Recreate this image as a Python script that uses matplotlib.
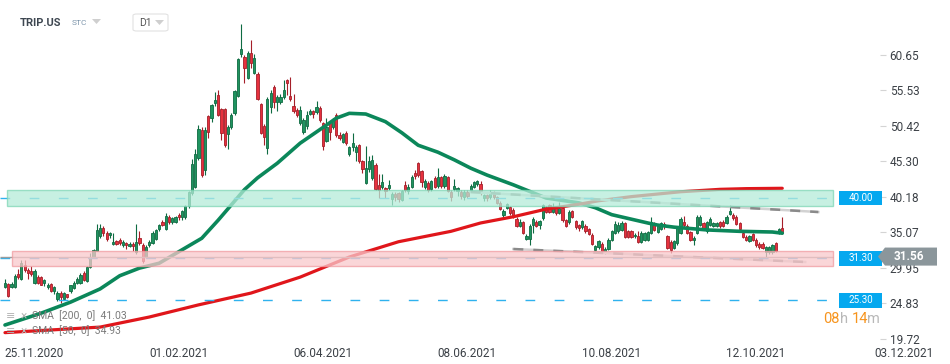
import matplotlib
matplotlib.use("Agg")
import matplotlib.pyplot as plt
from matplotlib.patches import Rectangle, Polygon, FancyBboxPatch
from matplotlib.transforms import blended_transform_factory

plt.rcParams['font.family'] = ['Roboto', 'DejaVu Sans']

# daily candles (one per trading day)
opens = [
    27.2, 27.6, 27.2, 27.2, 29.0, 28.3, 30.3, 29.6, 29.5, 27.7,
    28.6, 28.6, 27.8, 27.2, 27.6, 26.6, 25.4, 26.3, 25.4, 26.1,
    26.6, 27.1, 27.8, 27.8, 29.2, 28.0, 30.0, 31.5, 32.4, 34.5,
    35.7, 35.0, 34.6, 33.4, 33.8, 34.0, 33.2, 33.5, 33.1, 33.4,
    32.2, 34.2, 33.2, 31.5, 33.2, 33.5, 34.1, 35.5, 36.5, 35.5,
    37.3, 36.5, 36.6, 37.5, 37.2, 37.2, 38.8, 40.7, 41.6, 45.8,
    49.8, 44.0, 51.8, 51.5, 53.7, 54.8, 52.8, 52.8, 49.2, 50.2,
    52.2, 54.7, 60.7, 60.3, 57.3, 60.9, 58.0, 57.9, 53.5, 50.4,
    47.2, 53.1, 56.0, 53.8, 53.8, 54.6, 57.0, 54.7, 53.3, 52.7,
    50.8, 49.5, 50.4, 52.1, 52.5, 52.4, 53.0, 50.8, 48.2, 50.8,
    50.2, 52.0, 49.1, 48.1, 49.4, 46.3, 47.3, 46.6, 47.6, 45.3,
    42.2, 44.2, 42.9, 44.8, 41.9, 41.6, 41.4, 41.4, 39.9, 40.6,
    40.7, 39.7, 41.9, 41.0, 41.6, 43.6, 45.0, 43.9, 41.6, 42.2,
    41.3, 42.9, 41.7, 43.0, 41.7, 43.0, 40.9, 41.3, 41.0, 40.9,
    40.1, 40.9, 41.2, 41.6, 42.0, 42.0, 40.0, 40.4, 40.1,
    40.7, 40.1, 39.3, 37.5, 38.6, 38.7, 38.3, 37.0, 36.0, 36.5, 34.1,
    34.1, 36.1, 36.6, 36.1, 37.1, 38.7, 39.0, 38.0, 38.5, 37.9,
    38.6, 36.8, 36.5, 38.1, 36.7, 36.1, 35.8, 36.0, 35.5, 34.7,
    32.5, 32.9, 33.4, 32.2, 32.7, 34.0, 35.0, 35.2, 35.4, 36.4,
    35.2, 35.2, 34.5, 34.5, 33.7, 34.0, 34.0,
    35.0, 36.4, 35.1, 35.6, 36.3, 34.5, 33.7, 32.8, 33.5, 35.0,
    36.5, 36.0, 35.1, 34.0, 35.0, 36.1, 36.4, 35.2, 36.1, 36.0,
    36.0, 36.5, 36.6, 36.4, 37.7, 37.6, 37.3, 36.4, 35.0, 34.4,
    33.8, 34.8, 34.0, 33.4, 33.4, 32.2, 32.2, 32.2, 33.5, 35.0, 35.7,
]
closes = [
    27.8, 25.9, 27.6, 28.8, 28.6, 30.6, 29.6, 29.2, 29.0, 29.5,
    27.8, 27.5, 28.2, 27.5, 26.6, 27.2, 26.3, 25.8, 26.3, 25.7,
    27.4, 27.8, 28.3, 28.9, 28.2, 30.0, 31.5, 32.5, 35.4, 35.7,
    34.9, 34.1, 34.9, 33.6, 33.4, 33.5, 33.7, 33.2, 33.4, 33.1,
    33.6, 33.5, 30.9, 33.0, 33.7, 35.0, 35.4, 36.1, 36.1, 37.4,
    36.5, 37.1, 37.2, 37.2, 38.1, 38.8, 40.8, 44.9, 46.3, 49.9,
    43.3, 49.8, 49.5, 53.4, 54.1, 52.0, 49.4, 47.6, 50.2, 52.0,
    55.4, 60.0, 61.5, 58.7, 60.9, 59.5, 60.2, 54.3, 49.4, 48.8,
    54.3, 55.1, 53.8, 54.6, 54.6, 55.6, 56.6, 54.3, 52.5, 52.0,
    52.7, 51.2, 52.0, 52.5, 52.1, 53.1, 51.2, 47.5, 50.2, 49.5,
    51.2, 49.1, 48.6, 49.2, 47.9, 47.3, 47.9, 47.3, 45.3, 44.2,
    44.3, 45.3, 45.5, 41.3, 41.2, 42.3, 41.0, 41.9, 40.6, 40.2,
    39.9, 41.0, 41.2, 41.6, 43.0, 43.2, 43.3, 42.3, 42.4, 41.2,
    42.4, 41.6, 43.0, 41.7, 43.2, 41.0, 40.1, 41.7, 41.4, 40.3,
    40.9, 40.3, 41.7, 42.3, 42.4, 41.0, 40.4, 40.0, 40.9,
    40.1, 39.3, 38.4, 38.1, 39.1, 37.8, 37.3, 36.0, 36.6, 35.0, 34.5,
    36.0, 37.0, 36.0, 36.7, 39.0, 38.0, 38.0, 38.7, 37.9, 38.6,
    36.8, 36.0, 38.0, 37.3, 35.8, 35.7, 36.7, 35.2, 34.8, 33.4,
    33.1, 33.8, 32.4, 32.7, 34.0, 35.2, 36.3, 36.1, 36.4, 34.4,
    34.4, 34.4, 34.7, 33.7, 35.0, 34.9, 35.1,
    36.5, 35.4, 36.0, 36.4, 35.9, 32.8, 32.5, 33.8, 35.8, 37.0,
    36.1, 35.0, 34.0, 34.3, 37.3, 37.3, 35.6, 36.5, 37.0, 36.4,
    36.4, 35.9, 36.0, 37.3, 38.1, 37.1, 36.3, 35.5, 34.4, 34.0,
    34.5, 34.0, 33.2, 32.9, 32.8, 32.9, 32.9, 33.2, 32.4, 35.5, 35.0,
]
highs = [
    28.4, 27.8, 27.9, 29.0, 29.8, 31.0, 31.0, 29.9, 30.2, 29.8,
    28.9, 28.8, 28.4, 27.7, 27.7, 27.3, 26.6, 26.6, 26.5, 26.2,
    27.5, 28.0, 28.6, 29.2, 29.5, 30.2, 32.1, 32.7, 36.3, 36.3,
    35.9, 35.2, 35.1, 34.9, 34.0, 34.2, 33.9, 33.7, 33.6, 33.6,
    36.3, 35.3, 33.5, 33.3, 33.9, 35.3, 35.6, 36.3, 36.9, 37.8,
    37.5, 37.3, 37.4, 37.8, 38.3, 39.0, 41.0, 45.6, 47.0, 50.5,
    50.3, 50.2, 52.0, 53.5, 55.3, 55.5, 53.0, 53.0, 50.5, 52.2,
    55.6, 60.2, 65.1, 60.6, 61.2, 62.8, 60.8, 58.2, 53.7, 50.6,
    54.5, 55.5, 56.3, 54.8, 55.0, 57.0, 57.2, 57.5, 55.0, 53.0,
    53.2, 51.5, 52.5, 52.8, 52.7, 54.0, 53.3, 51.0, 51.5, 51.0,
    51.5, 52.3, 49.5, 49.3, 49.6, 47.5, 49.3, 47.6, 47.8, 45.5,
    47.5, 46.0, 46.2, 45.0, 43.4, 43.5, 41.6, 42.6, 40.9, 40.8,
    40.9, 41.2, 42.5, 42.0, 43.3, 44.0, 45.2, 44.1, 42.8, 42.4,
    42.6, 43.1, 44.3, 43.2, 43.4, 43.2, 41.1, 42.8, 41.6, 41.1,
    41.1, 41.1, 42.0, 42.5, 42.6, 42.4, 40.6, 40.6, 41.2,
    41.0, 40.3, 39.5, 38.4, 39.3, 38.9, 38.5, 37.2, 37.0, 36.7, 34.8,
    36.2, 37.2, 36.8, 36.9, 39.2, 38.9, 39.2, 39.3, 38.8, 39.4,
    38.8, 37.0, 38.2, 38.3, 36.9, 36.3, 36.9, 36.2, 35.7, 34.9,
    33.3, 34.0, 33.6, 32.9, 34.2, 35.4, 36.7, 36.5, 36.7, 36.6,
    35.4, 35.4, 34.9, 35.2, 35.2, 35.1, 35.3,
    37.2, 36.6, 36.2, 36.6, 36.5, 34.7, 33.9, 34.0, 36.0, 37.3,
    37.4, 36.2, 35.3, 34.5, 37.5, 37.5, 36.6, 36.7, 37.2, 36.6,
    36.6, 36.7, 36.8, 37.5, 39.0, 37.8, 37.5, 36.6, 35.2, 34.6,
    34.7, 35.0, 34.2, 33.6, 33.6, 33.1, 33.1, 33.4, 33.7, 35.7, 37.3,
]
lows = [
    27.0, 25.8, 27.0, 27.0, 28.4, 28.2, 29.4, 28.3, 28.8, 27.6,
    27.6, 27.4, 27.3, 26.9, 26.5, 26.2, 25.2, 24.9, 25.3, 25.6,
    26.3, 26.9, 27.6, 27.6, 28.0, 27.9, 29.9, 31.3, 32.3, 34.2,
    34.5, 33.8, 34.3, 33.2, 33.2, 33.3, 33.0, 32.6, 32.9, 32.3,
    32.0, 33.3, 30.7, 31.3, 33.0, 33.4, 34.0, 35.3, 35.9, 35.4,
    36.3, 36.2, 36.4, 36.9, 36.9, 37.0, 38.6, 40.5, 41.4, 45.5,
    43.0, 43.3, 48.6, 51.0, 53.2, 51.8, 48.3, 47.3, 47.0, 49.9,
    52.0, 54.5, 60.3, 56.6, 57.1, 58.8, 57.8, 54.1, 49.2, 47.6,
    46.3, 52.3, 53.0, 52.5, 53.5, 54.3, 54.8, 54.0, 52.3, 51.6,
    50.5, 49.2, 50.0, 51.9, 51.5, 52.1, 51.0, 46.9, 48.0, 48.4,
    49.9, 48.8, 48.3, 47.9, 47.6, 46.0, 46.8, 45.4, 45.0, 43.6,
    42.0, 43.7, 42.6, 41.1, 40.0, 41.3, 40.0, 41.2, 39.0, 39.6,
    39.4, 39.5, 40.8, 40.6, 41.4, 42.8, 43.0, 41.6, 41.3, 40.9,
    41.0, 41.4, 41.5, 41.4, 41.5, 40.8, 39.6, 41.0, 40.3, 39.8,
    39.7, 40.0, 40.9, 41.4, 41.8, 40.5, 39.5, 39.6, 39.8,
    39.9, 39.1, 38.2, 37.0, 38.4, 37.6, 37.1, 35.8, 35.8, 34.8, 33.9,
    33.2, 35.0, 35.8, 35.5, 36.8, 37.8, 37.8, 37.8, 37.6, 37.7,
    36.6, 35.8, 36.3, 37.1, 35.6, 35.2, 35.6, 35.0, 34.6, 33.2,
    32.2, 32.7, 32.2, 32.0, 32.5, 33.8, 34.8, 35.0, 35.2, 34.2,
    34.2, 34.2, 34.3, 33.5, 33.5, 33.8, 33.8,
    34.8, 35.2, 34.9, 35.4, 35.6, 32.6, 32.1, 32.6, 33.3, 34.8,
    35.8, 34.8, 33.8, 33.3, 34.8, 35.9, 35.4, 35.0, 35.9, 35.8,
    35.8, 35.7, 35.8, 36.2, 37.5, 36.9, 36.1, 35.3, 34.2, 33.8,
    33.6, 33.8, 33.0, 32.7, 32.6, 31.0, 32.0, 32.0, 32.2, 34.8, 34.8,
]

# moving averages (bar index, value)
sma50_bar = [0, 11, 20, 29, 35, 41, 47, 60, 65, 73, 77, 83, 90, 98, 101, 105,
             110, 116, 121, 126, 132, 137, 142, 147, 155, 165, 175, 180, 185,
             196, 199, 204, 214, 224, 234, 237]
sma50_val = [21.7, 23.4, 25.0, 26.9, 28.8, 29.9, 30.6, 34.2, 36.8, 41.2, 42.9,
             45.0, 47.9, 50.5, 51.5, 52.2, 52.1, 51.0, 49.4, 47.6, 46.6, 45.5,
             44.3, 43.3, 41.9, 40.0, 39.3, 38.6, 37.6, 36.4, 36.1, 35.8, 35.4,
             35.2, 35.1, 34.93]
sma200_bar = [0, 29, 44, 59, 75, 90, 105, 120, 136, 145, 155, 165, 175, 181,
              191, 206, 218, 226, 237]
sma200_val = [20.6, 21.4, 22.85, 24.6, 26.3, 28.6, 31.5, 33.7, 35.2, 36.4,
              37.3, 38.4, 39.1, 39.6, 40.2, 40.9, 41.25, 41.35, 41.4]
legend_labels = ['SMA  [200,  0]  41.03', 'SMA  [50,  0]  34.93']

# horizontal levels, zones, trend lines
levels = [40.00, 31.30, 25.30]
green_zone = (38.85, 41.15)
red_zone = (30.2, 32.3)
last_price = 31.56
upper_trend_bar = [142, 248]
upper_trend_val = [40.86, 37.98]
lower_trend_bar = [155, 244]
lower_trend_val = [32.65, 30.78]

yticks = [60.65, 55.53, 50.42, 45.30, 40.18, 35.07, 29.95, 24.83, 19.72]
xtick_bars = [9, 53, 97, 141, 185, 229, 274]
xtick_labels = ['25.11.2020', '01.02.2021', '06.04.2021', '08.06.2021',
                '10.08.2021', '12.10.2021', '03.12.2021']

GREEN, GREEN_EDGE = '#1f9460', '#0e6b42'
RED, RED_EDGE = '#e6313e', '#a51f29'
TXT = '#3b4046'

W, H = 950, 364
fig = plt.figure(figsize=(W / 100, H / 100), dpi=100)
ax = fig.add_axes([0, 24 / H, 880 / W, 340 / H])
ax.set_xlim(-1.52, 266.8)
ax.set_ylim(19.54, 68.53)
for s in ax.spines.values():
    s.set_visible(False)

# candles
x = list(range(len(opens)))
body_bottom = [min(o, c) for o, c in zip(opens, closes)]
body_height = [max(abs(c - o), 0.15) for o, c in zip(opens, closes)]
face = [GREEN if c >= o else RED for o, c in zip(opens, closes)]
edge = [GREEN_EDGE if c >= o else RED_EDGE for o, c in zip(opens, closes)]
ax.vlines(x, lows, highs, colors=edge, lw=0.8, zorder=2)
ax.bar(x, body_height, bottom=body_bottom, width=0.68, color=face,
       edgecolor=edge, linewidth=0.6, zorder=3)

# moving averages
ax.plot(sma50_bar, sma50_val, color='#0b875a', lw=2.6, zorder=4,
        solid_capstyle='round', solid_joinstyle='round')
ax.plot(sma200_bar, sma200_val, color='#e0161b', lw=2.3, zorder=4,
        solid_capstyle='round', solid_joinstyle='round')

# trend lines
for xs, ys in [(upper_trend_bar, upper_trend_val), (lower_trend_bar, lower_trend_val)]:
    ax.plot(xs, ys, color='#d2d2d2', lw=1.8, zorder=5)
    ax.plot(xs, ys, color='#8a8a8a', lw=1.8, ls=(0, (4, 4)), zorder=5)

# levels
x_end = 252.5
ax.hlines(levels, -1.52, x_end, colors='#2fb2ee', lw=1.0,
          linestyles=[(0, (7, 14))], zorder=5)
ax.hlines(last_price, -1.52, x_end, colors='#9c9c9c', lw=1.0, zorder=5)

# zones
ax.add_patch(Rectangle((0.6, green_zone[0]), x_end - 0.6, green_zone[1] - green_zone[0],
                       facecolor='#b5ecd9', edgecolor='#7fd6b6', lw=1.0, alpha=0.75, zorder=6))
ax.add_patch(Rectangle((2.1, red_zone[0]), x_end - 2.1, red_zone[1] - red_zone[0],
                       facecolor='#f9c9cc', edgecolor='#f09ca1', lw=1.0, alpha=0.75, zorder=6))

# axes ticks
ax.yaxis.tick_right()
ax.set_yticks(yticks)
ax.set_yticklabels([f'{v:.2f}' for v in yticks])
ax.tick_params(axis='y', length=4, width=0.8, color='#d4d4d4', pad=3,
               labelsize=8.5, labelcolor=TXT)
ax.set_xticks([])
tr_x = blended_transform_factory(ax.transData, ax.transAxes)
for b, lab in zip(xtick_bars, xtick_labels):
    ax.text(b, -7 / 340, lab, transform=tr_x, ha='center', va='top',
            fontsize=8.5, color=TXT, clip_on=False)

# level tags
tr_y = blended_transform_factory(fig.transFigure, ax.transData)
for lv in levels:
    ax.add_patch(Rectangle((839 / W, lv - 1.08), 43 / W, 2.16, transform=tr_y,
                           facecolor='#05a8ef', edgecolor='none', clip_on=False, zorder=10))
    ax.text(860.5 / W, lv, f'{lv:.2f}', transform=tr_y, ha='center', va='center',
            fontsize=7, color='white', clip_on=False, zorder=11)

# last price tag
p = last_price
ax.add_patch(Polygon([(878 / W, p), (885 / W, p + 1.3), (937 / W, p + 1.3),
                      (937 / W, p - 1.3), (885 / W, p - 1.3)], closed=True,
                     transform=tr_y, facecolor='#8b969b', edgecolor='none',
                     clip_on=False, zorder=10))
ax.text(909 / W, p, f'{p:.2f}', transform=tr_y, ha='center', va='center',
        fontsize=8.5, weight='bold', color='white', clip_on=False, zorder=11)

# header
fig.text(20 / W, 1 - 23 / H, 'TRIP.US', fontsize=8, weight='bold', color='#3e4751', va='center')
fig.text(72 / W, 1 - 23 / H, 'STC', fontsize=6, color='#7d95ab', va='center')
fig.patches.append(Polygon([(92 / W, 1 - 19 / H), (101 / W, 1 - 19 / H), (96.5 / W, 1 - 24 / H)],
                           closed=True, transform=fig.transFigure, facecolor='#cfcfcf', edgecolor='none'))
fig.patches.append(FancyBboxPatch((133 / W, 1 - 31 / H), 35 / W, 17 / H,
                                  boxstyle='round,pad=0,rounding_size=0.004',
                                  transform=fig.transFigure, facecolor='white',
                                  edgecolor='#e2e2e2', lw=0.8))
fig.text(139 / W, 1 - 22.5 / H, 'D1', fontsize=7.5, color='#555555', va='center')
fig.patches.append(Polygon([(155 / W, 1 - 20 / H), (164 / W, 1 - 20 / H), (159.5 / W, 1 - 25 / H)],
                           closed=True, transform=fig.transFigure, facecolor='#cfcfcf', edgecolor='none'))

# legend
for yy, lab in zip([316, 331], legend_labels):
    fig.text(6 / W, 1 - yy / H, '≡', fontsize=8, color='#b4b4b4', va='center')
    fig.text(20 / W, 1 - yy / H, '×', fontsize=8.5, color='#b4b4b4', va='center')
    fig.text(32 / W, 1 - yy / H, lab, fontsize=7.5, color='#7a7a7a', va='center')

# session timer
for xx, s, c in [(823, '08', '#f7941d'), (840, 'h', '#b8b8b8'),
                 (852, '14', '#f7941d'), (867, 'm', '#b8b8b8')]:
    fig.text(xx / W, 1 - 319 / H, s, fontsize=10.5, color=c, va='center')

fig.savefig('out.png', dpi=100)
